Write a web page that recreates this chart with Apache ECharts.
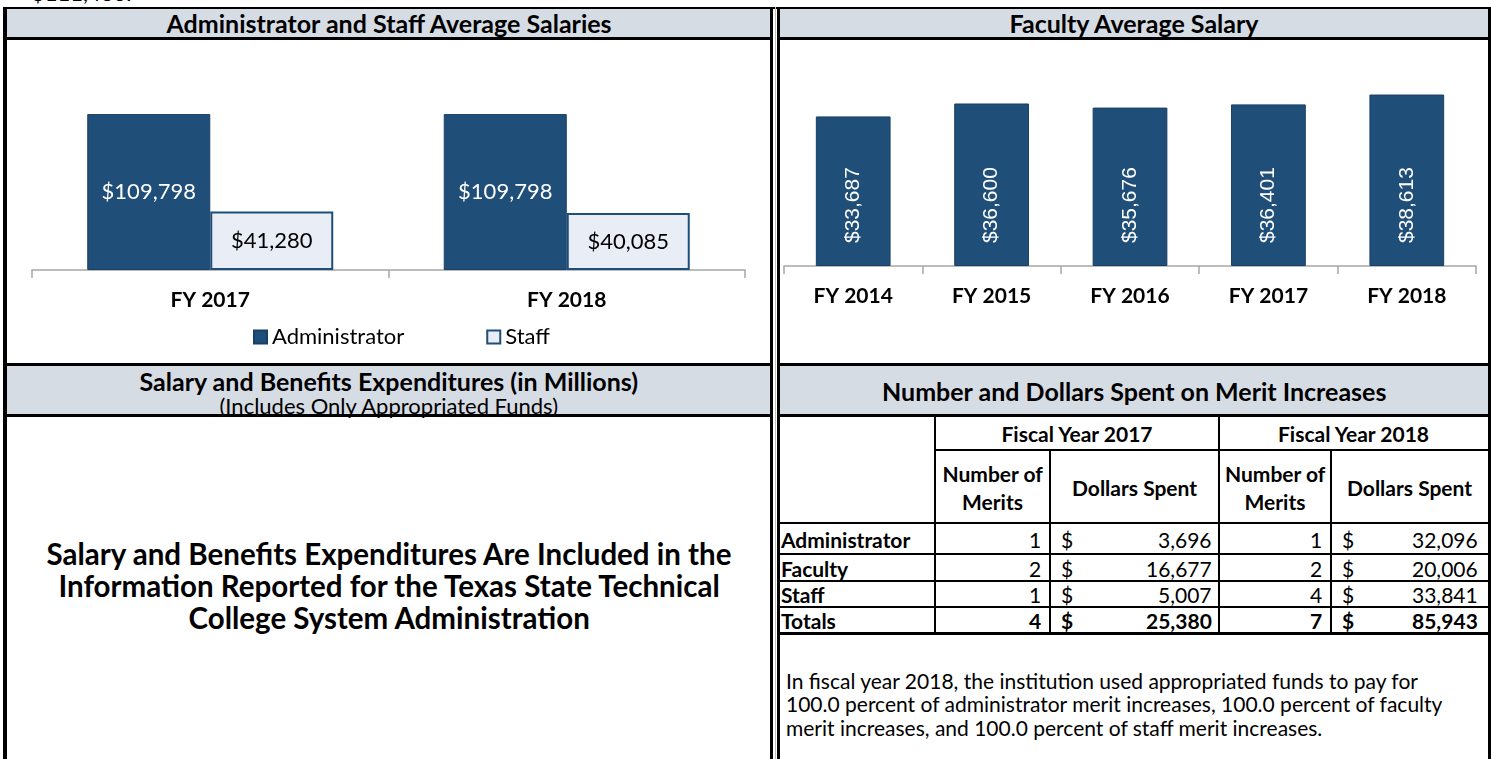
<!DOCTYPE html>
<html><head><meta charset="utf-8">
<script src="https://cdn.jsdelivr.net/npm/echarts@6/dist/echarts.min.js"></script>
<style>
html,body{margin:0;padding:0;background:#fff;}
body{width:1491px;height:759px;position:relative;overflow:hidden;font-family:Lato,"Open Sans",sans-serif;color:#000;}
.ln{position:absolute;background:#000;}
.hdr{position:absolute;background:#D6DCE4;}
.t{position:absolute;white-space:nowrap;line-height:1;}
#c1{position:absolute;left:7px;top:40px;width:763px;height:323px;}
#c2{position:absolute;left:780px;top:40px;width:708px;height:323px;}
</style></head><body>
<div id="c1"></div><div id="c2"></div>
<script>
// ---- data ----
const topNote = '$111,463.';
const adminStaffCategories = ['FY 2017', 'FY 2018'];
const adminSalaries = [109798, 109798];
const staffSalaries = [41280, 40085];
const facultyCategories = ['FY 2014', 'FY 2015', 'FY 2016', 'FY 2017', 'FY 2018'];
const facultySalaries = [33687, 36600, 35676, 36401, 38613];
const meritRoles = ['Administrator', 'Faculty', 'Staff'];
const meritCount2017 = [1, 2, 1];
const meritDollars2017 = [3696, 16677, 5007];
const meritCount2018 = [1, 2, 4];
const meritDollars2018 = [32096, 20006, 33841];
const meritTotalsLabel = 'Totals';
const meritTotals2017 = [4, 25380];
const meritTotals2018 = [7, 85943];
const titles = {
  adminStaff: 'Administrator and Staff Average Salaries',
  faculty: 'Faculty Average Salary',
  salaryBenefits: 'Salary and Benefits Expenditures (in Millions)',
  salaryBenefitsSub: '(Includes Only Appropriated Funds)',
  merit: 'Number and Dollars Spent on Merit Increases'
};
const salaryNoteLines = [
  'Salary and Benefits Expenditures Are Included in the',
  'Information Reported for the Texas State Technical',
  'College System Administration'
];
const meritNoteLines = [
  'In fiscal year 2018, the institution used appropriated funds to pay for',
  '100.0 percent of administrator merit increases, 100.0 percent of faculty',
  'merit increases, and 100.0 percent of staff merit increases.'
];

// ---- helpers ----
const B = document.body;
function box(cls, x, y, w, h, bg) {
  const d = document.createElement('div');
  d.className = cls;
  Object.assign(d.style, {left: x + 'px', top: y + 'px', width: w + 'px', height: h + 'px'});
  if (bg) d.style.background = bg;
  B.appendChild(d); return d;
}
function text(str, x, y, opt) {
  const d = document.createElement('div');
  d.className = 't';
  d.textContent = str;
  d.style.fontSize = (opt.size || 20) + 'px';
  d.style.fontWeight = opt.bold ? 'bold' : 'normal';
  if (opt.family) d.style.fontFamily = opt.family;
  B.appendChild(d);
  const w = d.offsetWidth, h = d.offsetHeight;
  let left = x;
  if (opt.align === 'center') left = x - w / 2;
  else if (opt.align === 'right') left = x - w;
  d.style.left = left + 'px';
  d.style.top = (y - h / 2) + 'px';
  return d;
}
const fmt = v => v.toLocaleString('en-US');

// ---- frame ----
text(topNote, 32, -7, {size: 22});
box('hdr', 7, 9, 763, 28); box('hdr', 780, 9, 708, 28);
box('hdr', 7, 366, 763, 48); box('hdr', 780, 366, 708, 48);
box('ln', 3, 7, 1488, 2);
box('ln', 3, 7, 4, 752);
box('ln', 1488, 7, 3, 752);
box('ln', 770, 7, 3, 752);
box('ln', 777, 7, 3, 752);
box('ln', 775, 7, 1, 752, '#BFBFBF');
[37, 363, 414].forEach(y => { box('ln', 7, y, 763, 3); box('ln', 780, y, 708, 3); });

// ---- titles ----
text(titles.adminStaff, 389, 23, {size: 25, bold: true, align: 'center'});
text(titles.faculty, 1134, 23, {size: 25, bold: true, align: 'center'});
text(titles.salaryBenefits, 389, 381, {size: 25, bold: true, align: 'center'});
text(titles.salaryBenefitsSub, 389, 406, {size: 22, align: 'center'});
text(titles.merit, 1134, 391, {size: 25, bold: true, align: 'center'});
salaryNoteLines.forEach((s, i) => text(s, 389, 554 + i * 32, {size: 29.5, bold: true, align: 'center'}));

// ---- merit table ----
const cx = [780, 935, 1050, 1219, 1331, 1488];
box('ln', 934, 417, 2, 216); box('ln', 1218, 417, 2, 216);
box('ln', 1049, 450, 2, 183); box('ln', 1330, 450, 2, 183);
box('ln', 935, 449, 553, 2);
[522, 553, 580, 606].forEach(y => box('ln', 780, y, 708, 2));
box('ln', 780, 632, 708, 3);
const TS = 21;
text('Fiscal Year 2017', (cx[1] + cx[3]) / 2, 433, {size: TS, bold: true, align: 'center'});
text('Fiscal Year 2018', (cx[3] + cx[5]) / 2, 433, {size: TS, bold: true, align: 'center'});
[[cx[1], cx[2]], [cx[3], cx[4]]].forEach(([a, b]) => {
  text('Number of', (a + b) / 2, 473, {size: TS, bold: true, align: 'center'});
  text('Merits', (a + b) / 2, 501, {size: TS, bold: true, align: 'center'});
});
[[cx[2], cx[3]], [cx[4], cx[5]]].forEach(([a, b]) => text('Dollars Spent', (a + b) / 2, 487, {size: TS, bold: true, align: 'center'}));
function dataRow(label, c17, d17, c18, d18, yc, bold) {
  const o = {size: TS, bold: bold};
  text(label, 781, yc, {size: TS, bold: true, align: 'left'});
  text(String(c17), cx[2] - 9, yc, Object.assign({align: 'right'}, o));
  text('$', cx[2] + 11, yc, Object.assign({align: 'left'}, o));
  text(fmt(d17), cx[3] - 7, yc, Object.assign({align: 'right'}, o));
  text(String(c18), cx[4] - 9, yc, Object.assign({align: 'right'}, o));
  text('$', cx[4] + 11, yc, Object.assign({align: 'left'}, o));
  text(fmt(d18), cx[5] - 10, yc, Object.assign({align: 'right'}, o));
}
const rowCentres = [539, 568, 594, 620];
meritRoles.forEach((r, i) => dataRow(r, meritCount2017[i], meritDollars2017[i], meritCount2018[i], meritDollars2018[i], rowCentres[i], false));
dataRow(meritTotalsLabel, meritTotals2017[0], meritTotals2017[1], meritTotals2018[0], meritTotals2018[1], rowCentres[3], true);
meritNoteLines.forEach((s, i) => text(s, 786, 680 + i * 23.5, {size: 21, align: 'left'}));

// ---- charts ----
const navy = '#1F4E79';
const axisGrey = '#A6A6A6';
const xAxisBase = {
  type: 'category',
  axisLine: {show: true, lineStyle: {color: axisGrey, width: 1.5}},
  axisTick: {show: true, length: 8, alignWithLabel: false, lineStyle: {color: axisGrey, width: 1.5}},
  axisLabel: {fontFamily: 'Lato', fontWeight: 'bold', fontSize: 21, color: '#000', margin: 20}
};
const c1 = echarts.init(document.getElementById('c1'));
c1.setOption({
  animation: false,
  grid: {left: 25, right: 25, top: 17, bottom: 93},
  legend: {
    data: ['Administrator', 'Staff'], left: 246, top: 286, padding: 0,
    icon: 'rect', itemWidth: 13, itemHeight: 13, itemGap: 82,
    textStyle: {fontFamily: 'Lato', fontSize: 22, color: '#000'}
  },
  xAxis: Object.assign({data: adminStaffCategories}, xAxisBase),
  yAxis: {type: 'value', min: 0, max: 150000, show: false},
  series: [
    {name: 'Administrator', type: 'bar', data: adminSalaries, barGap: '0%', barCategoryGap: '31%',
      itemStyle: {color: navy, borderColor: '#183F66', borderWidth: 1},
      label: {show: true, position: 'inside', color: '#fff', fontFamily: 'Lato', fontSize: 22,
        formatter: p => '$' + fmt(p.value)}},
    {name: 'Staff', type: 'bar', data: staffSalaries,
      itemStyle: {color: '#E9EEF6', borderColor: navy, borderWidth: 2},
      label: {show: true, position: 'inside', color: '#000', fontFamily: 'Lato', fontSize: 22,
        formatter: p => '$' + fmt(p.value)}}
  ]
});
const c2 = echarts.init(document.getElementById('c2'));
c2.setOption({
  animation: false,
  grid: {left: 4, right: 12, top: 4, bottom: 97},
  xAxis: Object.assign({data: facultyCategories}, xAxisBase),
  yAxis: {type: 'value', min: 0, max: 50000, show: false},
  series: [{
    type: 'bar', data: facultySalaries, barCategoryGap: '46%',
    itemStyle: {color: navy, borderColor: '#183F66', borderWidth: 1},
    label: {show: true, position: 'insideBottom', distance: 23, rotate: 90, align: 'left', verticalAlign: 'middle',
      color: '#fff', fontFamily: 'Liberation Sans', fontSize: 21, formatter: p => '$' + fmt(p.value)}
  }]
});
</script>
</body></html>
